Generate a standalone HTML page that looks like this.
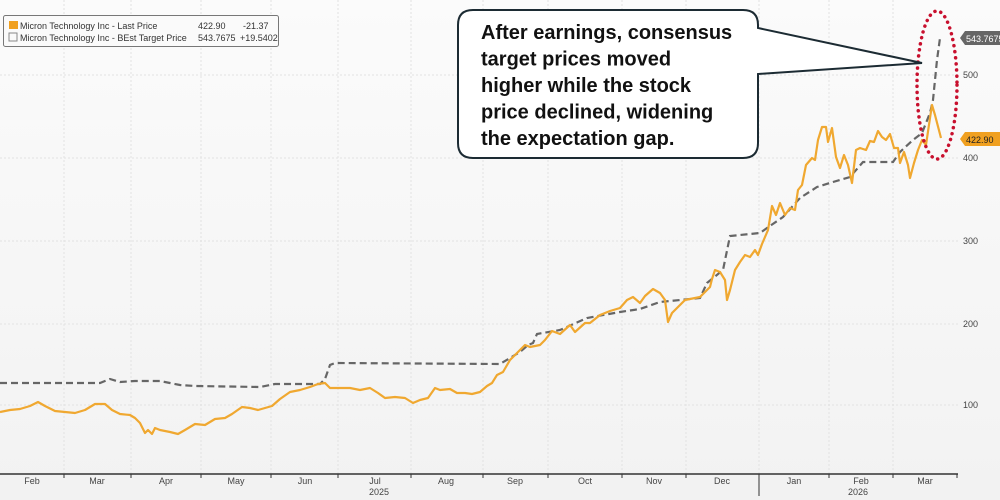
<!DOCTYPE html>
<html><head><meta charset="utf-8"><style>
html,body{margin:0;padding:0;background:#f7f7f7;}
svg{display:block;font-family:"Liberation Sans",sans-serif;}
</style></head><body>
<svg width="1000" height="500" viewBox="0 0 1000 500">
<defs><linearGradient id="bg" x1="0" y1="0" x2="0" y2="1"><stop offset="0" stop-color="#fbfbfb"/><stop offset="1" stop-color="#f2f2f2"/></linearGradient></defs>
<rect width="1000" height="500" fill="url(#bg)"/>
<g stroke="#e2e2e2" stroke-width="1" stroke-dasharray="2,2">
<line x1="0" y1="405" x2="958" y2="405"/><line x1="0" y1="324" x2="958" y2="324"/><line x1="0" y1="241" x2="958" y2="241"/><line x1="0" y1="158" x2="958" y2="158"/><line x1="0" y1="75" x2="958" y2="75"/>
<line x1="64" y1="0" x2="64" y2="474"/><line x1="131" y1="0" x2="131" y2="474"/><line x1="201" y1="0" x2="201" y2="474"/><line x1="271" y1="0" x2="271" y2="474"/><line x1="338" y1="0" x2="338" y2="474"/><line x1="411" y1="0" x2="411" y2="474"/><line x1="483" y1="0" x2="483" y2="474"/><line x1="548" y1="0" x2="548" y2="474"/><line x1="622" y1="0" x2="622" y2="474"/><line x1="686" y1="0" x2="686" y2="474"/><line x1="759" y1="0" x2="759" y2="474"/><line x1="829" y1="0" x2="829" y2="474"/><line x1="893" y1="0" x2="893" y2="474"/>
</g>
<line x1="0" y1="474" x2="958" y2="474" stroke="#333" stroke-width="1.5"/>
<g stroke="#333" stroke-width="1">
<line x1="64" y1="474" x2="64" y2="478"/><line x1="131" y1="474" x2="131" y2="478"/><line x1="201" y1="474" x2="201" y2="478"/><line x1="271" y1="474" x2="271" y2="478"/><line x1="338" y1="474" x2="338" y2="478"/><line x1="411" y1="474" x2="411" y2="478"/><line x1="483" y1="474" x2="483" y2="478"/><line x1="548" y1="474" x2="548" y2="478"/><line x1="622" y1="474" x2="622" y2="478"/><line x1="686" y1="474" x2="686" y2="478"/><line x1="759" y1="474" x2="759" y2="496"/><line x1="829" y1="474" x2="829" y2="478"/><line x1="893" y1="474" x2="893" y2="478"/><line x1="957" y1="474" x2="957" y2="478"/>
</g>
<g font-size="9" fill="#444" text-anchor="middle">
<text x="32" y="484">Feb</text><text x="97" y="484">Mar</text><text x="166" y="484">Apr</text><text x="236" y="484">May</text><text x="305" y="484">Jun</text><text x="375" y="484">Jul</text><text x="446" y="484">Aug</text><text x="515" y="484">Sep</text><text x="585" y="484">Oct</text><text x="654" y="484">Nov</text><text x="722" y="484">Dec</text><text x="794" y="484">Jan</text><text x="861" y="484">Feb</text><text x="925" y="484">Mar</text>
<text x="379" y="495">2025</text><text x="858" y="495">2026</text>
</g>
<g font-size="9" fill="#444">
<text x="963" y="408">100</text><text x="963" y="327">200</text><text x="963" y="244">300</text><text x="963" y="161">400</text><text x="963" y="78">500</text>
</g>
<polyline fill="none" stroke="#666" stroke-width="2.2" stroke-dasharray="7,4" points="0,383 100,383 110,379 120,382 135,381 160,381 180,385 195,386 260,387 275,384 320,384 325,379 330,365 335,363 500,364 510,358 520,352 528,345 533,343 537,334 560,330 587,318 620,312 640,309 660,302 700,298 707,283 723,270 730,236 760,233 767,228 783,217 800,198 817,187 833,182 850,177 863,162 893,162 900,152 913,140 922,133 930,113 933,100 937,60 940,38"/>
<polyline fill="none" stroke="#f0a830" stroke-width="2.2" stroke-linejoin="round" points="0,412 10,410 20,409 30,406 38,402 45,406 55,411 65,412 75,413 85,410 95,404 105,404 112,410 120,414 130,415 135,418 140,423 145,433 148,430 152,434 155,428 160,430 170,432 178,434 185,430 195,424 205,425 215,419 225,418 232,414 242,407 250,408 258,410 265,408 272,406 280,399 290,392 300,390 310,387 318,384 325,383 330,388 340,388 350,388 360,390 370,388 378,393 385,398 395,397 405,398 413,403 420,400 428,398 435,388 440,390 450,389 457,393 465,393 472,394 480,392 487,386 492,383 497,375 503,372 510,360 515,355 520,350 525,345 530,347 540,345 545,340 552,331 560,334 570,325 575,332 585,323 590,323 600,315 610,311 620,308 627,300 633,297 640,303 645,296 653,289 660,293 665,300 668,322 672,313 678,307 685,300 695,298 700,297 705,292 710,287 712,279 715,270 720,272 725,280 727,300 730,290 735,270 740,262 745,255 750,257 755,250 758,255 762,244 768,230 772,206 776,215 780,203 785,215 790,208 795,210 798,190 802,185 806,165 812,158 815,160 818,140 822,127 826,127 828,142 832,128 836,157 840,168 844,155 848,165 852,183 856,150 860,148 866,150 870,141 874,142 878,131 882,137 886,140 890,134 894,148 898,148 900,163 904,152 908,165 910,178 914,163 918,150 922,140 926,145 930,118 932,105 935,115 941,138"/>
<path d="M960,38 l5,-7 h35 v14 h-35 z" fill="#666"/>
<text x="966" y="42" font-size="9" fill="#fff">543.7675</text>
<path d="M960,139 l5,-7 h35 v14 h-35 z" fill="#f0a020"/>
<text x="966" y="143" font-size="9" fill="#222">422.90</text>
<ellipse cx="937" cy="85" rx="20" ry="74" fill="none" stroke="#c8102e" stroke-width="3.5" stroke-dasharray="0.1,6" stroke-linecap="round"/>
<path d="M473,10 H743 Q758,10 758,25 V28 L922,63 L758,74 V143 Q758,158 743,158 H473 Q458,158 458,143 V25 Q458,10 473,10 Z" fill="#fff" stroke="#1c2b33" stroke-width="2"/>
<g font-size="20" fill="#111" font-weight="bold">
<text x="481" y="39">After earnings, consensus</text><text x="481" y="65.5">target prices moved</text><text x="481" y="92">higher while the stock</text><text x="481" y="118.5">price declined, widening</text><text x="481" y="145">the expectation gap.</text>
</g>
<rect x="3.5" y="15.5" width="275" height="31" rx="2" fill="#fafafa" stroke="#777"/>
<rect x="9" y="21" width="9" height="8" fill="#f0a020"/>
<rect x="9" y="33" width="8" height="8" fill="none" stroke="#888"/>
<g font-size="9" fill="#333">
<text x="20" y="29">Micron Technology Inc - Last Price</text><text x="198" y="29">422.90</text><text x="243" y="29">-21.37</text>
<text x="20" y="41">Micron Technology Inc - BEst Target Price</text><text x="198" y="41">543.7675</text><text x="240" y="41">+19.5402</text>
</g>
</svg>
</body></html>
